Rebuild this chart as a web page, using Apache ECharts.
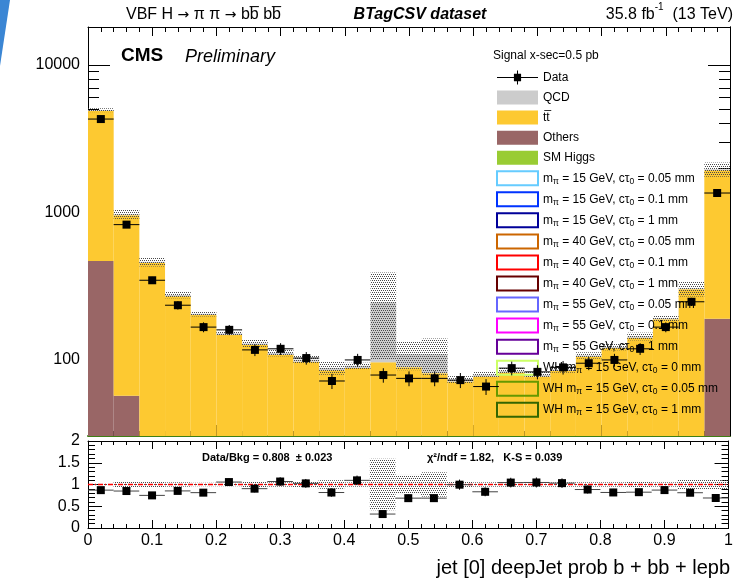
<!DOCTYPE html>
<html>
<head>
<meta charset="utf-8">
<script src="https://cdn.jsdelivr.net/npm/echarts@6/dist/echarts.min.js"></script>
<style>
  html, body { margin: 0; padding: 0; background: #ffffff; }
  #chart { width: 736px; height: 585px; }
</style>
</head>
<body>
<div id="chart"></div>
<script>
// Histogram binning: 25 bins of width 0.04 on [0, 1]
const binCenters = [0.02, 0.06, 0.10, 0.14, 0.18, 0.22, 0.26, 0.30, 0.34, 0.38, 0.42, 0.46, 0.50,
                    0.54, 0.58, 0.62, 0.66, 0.70, 0.74, 0.78, 0.82, 0.86, 0.90, 0.94, 0.98];
const binHalfWidth = 0.02;

// Observed events per bin
const dataCounts = [4300, 827, 347, 235, 167, 160, 117, 119, 103, 72, 100, 79, 75,
                    75, 73, 66, 88, 83, 89, 95, 100, 119, 167, 248, 1355];

// Background components per bin
const qcdYield    = [60, 15, 8, 5, 4, 4, 3, 3, 3, 3, 3, 150, 20,
                     28, 2, 2, 2, 2, 2, 2, 2, 3, 3, 4, 30];
const ttbarYield  = [4412, 901, 450, 267, 198, 145, 124, 106, 95, 83, 86, 93, 87,
                     79, 69, 75, 80, 75, 82, 102, 117, 137, 183, 294, 1744];
const othersYield = [464, 56, 4, 3, 3, 2, 2, 2, 2, 2, 2, 3, 2,
                     2, 2, 2, 2, 2, 2, 3, 3, 4, 5, 7, 187];
const smHiggsYield = [4.1, 1.2, 0.8, 0.6, 0.5, 0.5, 0.4, 0.4, 0.4, 0.3, 0.3, 0.3, 0.3,
                      0.3, 0.3, 0.3, 0.3, 0.3, 0.3, 0.4, 0.4, 0.5, 0.6, 0.9, 3.2];

// Relative uncertainty of the total background per bin
const bkgRelUnc = [0.03, 0.07, 0.07, 0.05, 0.04, 0.04, 0.06, 0.05, 0.06, 0.10, 0.05, 0.59, 0.22,
                   0.28, 0.06, 0.05, 0.05, 0.05, 0.05, 0.05, 0.05, 0.06, 0.05, 0.12, 0.11];

// Axis tick labels
const mainYMajorTicks = [100, 1000, 10000];
const ratioYTicks = [0, 0.5, 1, 1.5, 2];

// Signal hypotheses listed in the legend
const signalNames = ['m15_005', 'm15_01', 'm15_1', 'm40_005', 'm40_01', 'm40_1',
                     'm55_005', 'm55_01', 'm55_1', 'wh15_0', 'wh15_005', 'wh15_1'];
const signalColors = ['#66ccff', '#0033ff', '#000099', '#cc6600', '#ff0000', '#660000',
                      '#6666ff', '#ff00ff', '#660099', '#ccff66', '#669900', '#336600'];
const signalLabels = [
  '{n|m}{s|\u03c0}{n| = 15 GeV, c\u03c4}{s|0}{n| = 0.05 mm}',
  '{n|m}{s|\u03c0}{n| = 15 GeV, c\u03c4}{s|0}{n| = 0.1 mm}',
  '{n|m}{s|\u03c0}{n| = 15 GeV, c\u03c4}{s|0}{n| = 1 mm}',
  '{n|m}{s|\u03c0}{n| = 40 GeV, c\u03c4}{s|0}{n| = 0.05 mm}',
  '{n|m}{s|\u03c0}{n| = 40 GeV, c\u03c4}{s|0}{n| = 0.1 mm}',
  '{n|m}{s|\u03c0}{n| = 40 GeV, c\u03c4}{s|0}{n| = 1 mm}',
  '{n|m}{s|\u03c0}{n| = 55 GeV, c\u03c4}{s|0}{n| = 0.05 mm}',
  '{n|m}{s|\u03c0}{n| = 55 GeV, c\u03c4}{s|0}{n| = 0.1 mm}',
  '{n|m}{s|\u03c0}{n| = 55 GeV, c\u03c4}{s|0}{n| = 1 mm}',
  '{n|WH m}{s|\u03c0}{n| = 15 GeV, c\u03c4}{s|0}{n| = 0 mm}',
  '{n|WH m}{s|\u03c0}{n| = 15 GeV, c\u03c4}{s|0}{n| = 0.05 mm}',
  '{n|WH m}{s|\u03c0}{n| = 15 GeV, c\u03c4}{s|0}{n| = 1 mm}'
];

const FONT = '"Liberation Sans", Arial, Helvetica, sans-serif';
const COL = { qcd: '#cccccc', ttbar: '#fdc931', others: '#996666', higgs: '#99cc33' };

// Cumulative stack levels (bottom to top: SM Higgs, Others, ttbar, QCD)
const lvlHiggs = smHiggsYield.slice();
const lvlOthers = lvlHiggs.map((v, i) => v + othersYield[i]);
const lvlTtbar = lvlOthers.map((v, i) => v + ttbarYield[i]);
const lvlTotal = lvlTtbar.map((v, i) => v + qcdYield[i]);

// Dotted fill used for the uncertainty bands
function dotPattern() {
  const c = document.createElement('canvas');
  c.width = 4; c.height = 4;
  const g = c.getContext('2d');
  g.fillStyle = '#4a4a4a';
  [[0, 0], [2, 0], [1, 2], [3, 2]].forEach(p => g.fillRect(p[0], p[1], 1, 1));
  return c;
}
const dots = { image: dotPattern(), repeat: 'repeat' };

// Filled rectangle spanning one bin between two y values
function binRect(fill) {
  return function (params, api) {
    const x = api.value(0);
    const lo = Math.max(api.value(1), 1e-3);
    const hi = api.value(2);
    const p0 = api.coord([x - binHalfWidth, hi]);
    const p1 = api.coord([x + binHalfWidth, lo]);
    const cs = params.coordSys;
    const yBottom = Math.min(p1[1], cs.y + cs.height);
    return {
      type: 'rect',
      shape: { x: p0[0], y: p0[1], width: p1[0] - p0[0], height: yBottom - p0[1] },
      style: { fill: fill }
    };
  };
}

// Data point with x (bin width) and y (statistical) error bars
function dataPoint(size, hColor) {
  return function (params, api) {
    const x = api.value(0), y = api.value(1), e = api.value(2);
    const c = api.coord([x, y]);
    const l = api.coord([x - binHalfWidth, y]);
    const r = api.coord([x + binHalfWidth, y]);
    const lo = api.coord([x, Math.max(y - e, 1e-3)]);
    const hi = api.coord([x, y + e]);
    return {
      type: 'group',
      children: [
        { type: 'line', shape: { x1: l[0], y1: c[1], x2: r[0], y2: c[1] }, style: { stroke: hColor, lineWidth: 1 } },
        { type: 'line', shape: { x1: c[0], y1: lo[1], x2: c[0], y2: hi[1] }, style: { stroke: '#000', lineWidth: 1 } },
        { type: 'rect', shape: { x: c[0] - size / 2, y: c[1] - size / 2, width: size, height: size }, style: { fill: '#000' } }
      ]
    };
  };
}

const stackItems = (lower, upper) => binCenters.map((x, i) => [x, lower ? lower[i] : 0, upper[i]]);

// Minor log ticks 2..9 x decade inside the visible range
const Y_MIN = 30.5, Y_MAX = 18100;
const mainYMinorTicks = [];
for (let d = 10; d <= 10000; d *= 10) {
  for (let k = 2; k <= 9; k++) {
    const v = k * d;
    if (v >= Y_MIN && v <= Y_MAX) mainYMinorTicks.push(v);
  }
}

const axisLineBlack = { show: true, lineStyle: { color: '#000', width: 1 } };
const noLabel = { show: false };

function mainX(position, lineColor, lineWidth) {
  return {
    type: 'value', gridIndex: 0, position: position, min: 0, max: 1, interval: 0.1,
    axisLine: { show: true, onZero: false, lineStyle: { color: lineColor, width: lineWidth } },
    axisTick: { show: true, inside: true, length: position === 'top' ? 9 : 11, lineStyle: { color: '#000' } },
    minorTick: { show: true, splitNumber: 5, length: 5, lineStyle: { color: '#000' } },
    axisLabel: noLabel, splitLine: { show: false }, minorSplitLine: { show: false }
  };
}
function mainY(position, ticks, len, withLabels) {
  return {
    type: 'log', gridIndex: 0, position: position, min: Y_MIN, max: Y_MAX, logBase: 10,
    axisLine: withLabels || position === 'right' ? axisLineBlack : { show: false },
    axisTick: { show: true, inside: true, length: len, customValues: ticks, lineStyle: { color: '#000' } },
    axisLabel: withLabels ? {
      show: true, customValues: mainYMajorTicks, margin: 8, color: '#000',
      fontFamily: FONT, fontSize: 16, formatter: v => String(Math.round(v))
    } : noLabel,
    splitLine: { show: false }
  };
}
function ratioX(position, withLabels) {
  return {
    type: 'value', gridIndex: 1, position: position, min: 0, max: 1, interval: 0.1,
    axisLine: { show: true, onZero: false, lineStyle: { color: '#000', width: 1 } },
    axisTick: { show: true, inside: true, length: 8, lineStyle: { color: '#000' } },
    minorTick: { show: true, splitNumber: 5, length: 4, lineStyle: { color: '#000' } },
    axisLabel: withLabels ? {
      show: true, margin: 5, color: '#000', fontFamily: FONT, fontSize: 16,
      formatter: v => (v === 0 ? '0' : v === 1 ? '1' : v.toFixed(1))
    } : noLabel,
    splitLine: { show: false }, minorSplitLine: { show: false }
  };
}
function ratioY(position, withLabels) {
  return {
    type: 'value', gridIndex: 1, position: position, min: 0, max: 2, interval: 0.5,
    axisLine: { show: true, onZero: false, lineStyle: { color: '#000', width: 1 } },
    axisTick: { show: true, inside: true, length: 14, lineStyle: { color: '#000' } },
    minorTick: { show: true, splitNumber: 5, length: 7, lineStyle: { color: '#000' } },
    axisLabel: withLabels ? {
      show: true, customValues: ratioYTicks, margin: 8, color: '#000', fontFamily: FONT, fontSize: 16,
      formatter: v => String(v)
    } : noLabel,
    splitLine: { show: false }, minorSplitLine: { show: false }
  };
}

const series = [
  { name: 'SM Higgs', type: 'custom', xAxisIndex: 0, yAxisIndex: 0, clip: true, z: 2,
    renderItem: binRect(COL.higgs), data: stackItems(null, lvlHiggs) },
  { name: 'Others', type: 'custom', xAxisIndex: 0, yAxisIndex: 0, clip: true, z: 2,
    renderItem: binRect(COL.others), data: stackItems(lvlHiggs, lvlOthers) },
  { name: 'ttbar', type: 'custom', xAxisIndex: 0, yAxisIndex: 0, clip: true, z: 2,
    renderItem: binRect(COL.ttbar), data: stackItems(lvlOthers, lvlTtbar) },
  { name: 'QCD', type: 'custom', xAxisIndex: 0, yAxisIndex: 0, clip: true, z: 2,
    renderItem: binRect(COL.qcd), data: stackItems(lvlTtbar, lvlTotal) },
  { name: 'bkgUnc', type: 'custom', xAxisIndex: 0, yAxisIndex: 0, clip: true, z: 3,
    renderItem: binRect(dots),
    data: binCenters.map((x, i) => [x, lvlTotal[i] * (1 - bkgRelUnc[i]), lvlTotal[i] * (1 + bkgRelUnc[i])]) },
  { name: 'Data', type: 'custom', xAxisIndex: 0, yAxisIndex: 0, clip: true, z: 5,
    renderItem: dataPoint(8, '#000'),
    data: binCenters.map((x, i) => [x, dataCounts[i], Math.sqrt(dataCounts[i])]) },
  // Ratio panel
  { name: 'ratioUnc', type: 'custom', xAxisIndex: 2, yAxisIndex: 4, clip: true, z: 3,
    renderItem: binRect(dots),
    data: binCenters.map((x, i) => [x, 1 - bkgRelUnc[i], 1 + bkgRelUnc[i]]) },
  { name: 'unity', type: 'line', xAxisIndex: 2, yAxisIndex: 4, z: 4, silent: true,
    showSymbol: false, symbol: 'none',
    lineStyle: { color: '#ff0000', width: 1.5, type: [5, 2, 1, 2] },
    data: [[0, 1], [1, 1]] },
  { name: 'ratio', type: 'custom', xAxisIndex: 2, yAxisIndex: 4, clip: true, z: 5,
    renderItem: dataPoint(8, '#444'),
    data: binCenters.map((x, i) => [x, dataCounts[i] / lvlTotal[i], Math.sqrt(dataCounts[i]) / lvlTotal[i]]) }
];
signalNames.forEach((n, i) => {
  series.push({ name: n, type: 'line', xAxisIndex: 0, yAxisIndex: 0, data: [],
    lineStyle: { color: signalColors[i] }, itemStyle: { color: signalColors[i] } });
});

const legendData = [
  { name: 'Data', icon: 'path://M0,6L40,6L40,7L0,7Z M16.5,3L23.5,3L23.5,10L16.5,10Z M19.5,0L20.5,0L20.5,13L19.5,13Z',
    itemStyle: { color: '#000', borderWidth: 0 } },
  { name: 'QCD', icon: 'rect', itemStyle: { color: COL.qcd, borderWidth: 0 } },
  { name: 'ttbar', icon: 'rect', itemStyle: { color: COL.ttbar, borderWidth: 0 } },
  { name: 'Others', icon: 'rect', itemStyle: { color: COL.others, borderWidth: 0 } },
  { name: 'SM Higgs', icon: 'rect', itemStyle: { color: COL.higgs, borderWidth: 0 } }
].concat(signalNames.map((n, i) => ({
  name: n, icon: 'rect',
  itemStyle: { color: 'rgba(255,255,255,0)', borderColor: signalColors[i], borderWidth: 2 }
})));

const legendText = { 'Data': '{n|Data}', 'QCD': '{n|QCD}', 'ttbar': '{n|tt\u0305}', 'Others': '{n|Others}', 'SM Higgs': '{n|SM Higgs}' };
signalNames.forEach((n, i) => { legendText[n] = signalLabels[i]; });

const option = {
  backgroundColor: '#ffffff',
  animation: false,
  grid: [
    { left: 88, right: 6, top: 27, bottom: 149, containLabel: false },
    { left: 88, right: 6, top: 441, bottom: 57, containLabel: false }
  ],
  xAxis: [mainX('bottom', '#3f7f16', 2), mainX('top', '#000', 1), ratioX('bottom', true), ratioX('top', false)],
  yAxis: [
    mainY('left', mainYMajorTicks, 22, true),
    mainY('left', mainYMinorTicks, 11, false),
    mainY('right', mainYMajorTicks, 22, false),
    mainY('right', mainYMinorTicks, 11, false),
    ratioY('left', true),
    ratioY('right', false)
  ],
  legend: {
    show: true, orient: 'vertical', left: 496, top: 70, padding: 0,
    itemWidth: 41, itemHeight: 14, itemGap: 5.05, selectedMode: false,
    symbolKeepAspect: false,
    data: legendData,
    formatter: name => legendText[name],
    textStyle: {
      color: '#000', fontFamily: FONT, fontSize: 12, lineHeight: 15, height: 15,
      rich: {
        n: { fontFamily: FONT, fontSize: 12, lineHeight: 15, color: '#000' },
        s: { fontFamily: FONT, fontSize: 8.5, lineHeight: 9, verticalAlign: 'bottom', color: '#000' }
      }
    }
  },
  graphic: [
    { type: 'polygon', z: 100, shape: { points: [[0, 0], [10, 0], [0, 66]] }, style: { fill: '#3b86d4' } },
    { type: 'text', z: 100, style: { x: 126, y: 15,
      text: '{a|VBF H }{r|\u2192}{a| \u03c0 \u03c0 }{r|\u2192}{a| bb\u0305 bb\u0305}',
      verticalAlign: 'middle',
      rich: { a: { fontFamily: FONT, fontSize: 16, lineHeight: 18, fill: '#000' },
              r: { fontFamily: '"DejaVu Sans", sans-serif', fontSize: 14, lineHeight: 18, fill: '#000' } } } },
    { type: 'text', z: 100, style: { x: 420, y: 15, text: 'BTagCSV dataset', align: 'center',
      font: 'italic bold 16px ' + FONT, fill: '#000', verticalAlign: 'middle' } },
    { type: 'text', z: 100, style: { x: 733, y: 15, text: '{a|35.8 fb}{b|-1}{a|  (13 TeV)}', align: 'right',
      verticalAlign: 'middle',
      rich: { a: { fontFamily: FONT, fontSize: 16, lineHeight: 18, fill: '#000' },
              b: { fontFamily: FONT, fontSize: 10, lineHeight: 26, verticalAlign: 'top', fill: '#000' } } } },
    { type: 'text', z: 100, style: { x: 121, y: 56, text: 'CMS', font: 'bold 19px ' + FONT, fill: '#000', verticalAlign: 'middle' } },
    { type: 'text', z: 100, style: { x: 185, y: 57, text: 'Preliminary', font: 'italic 18px ' + FONT, fill: '#000', verticalAlign: 'middle' } },
    { type: 'text', z: 100, style: { x: 493, y: 56, text: 'Signal x-sec=0.5 pb', font: '12px ' + FONT, fill: '#000', verticalAlign: 'middle' } },
    { type: 'text', z: 100, style: { x: 202, y: 458, text: 'Data/Bkg = 0.808  \u00b1 0.023', font: 'bold 11px ' + FONT, fill: '#000', verticalAlign: 'middle' } },
    { type: 'text', z: 100, style: { x: 427, y: 458, text: '\u03c7\u00b2/ndf = 1.82,   K-S = 0.039', font: 'bold 11px ' + FONT, fill: '#000', verticalAlign: 'middle' } },
    { type: 'text', z: 100, style: { x: 730, y: 568, text: 'jet [0] deepJet prob b + bb + lepb', align: 'right',
      font: '20px ' + FONT, fill: '#000', verticalAlign: 'middle' } }
  ],
  series: series
};

const chart = echarts.init(document.getElementById('chart'), null, { renderer: 'canvas' });
chart.setOption(option);
</script>
</body>
</html>
